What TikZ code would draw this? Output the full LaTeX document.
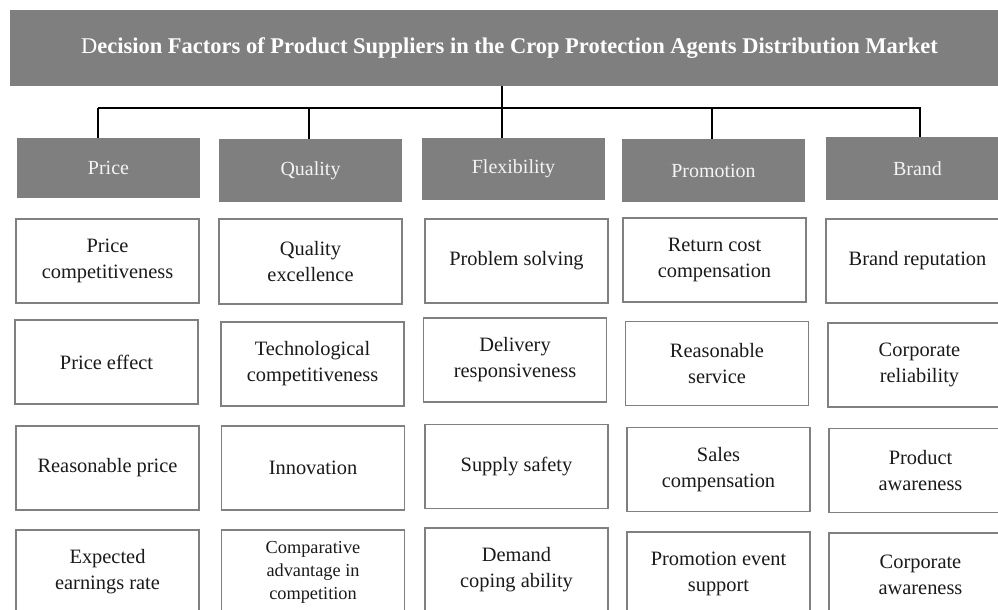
\documentclass[tikz,border=0pt]{standalone}
\usepackage{fontspec}
\setmainfont{Liberation Serif}
\definecolor{boxgray}{HTML}{7F7F7F}
\definecolor{edgegray}{HTML}{808080}
\definecolor{cattext}{HTML}{F4F4F4}
\definecolor{txt}{HTML}{1A1A1A}
\tikzset{
  titlebox/.style={fill=boxgray, draw=none, minimum width=999pt, minimum height=76pt, inner sep=0pt, outer sep=0pt, text=white, font=\fontsize{22.5}{26}\selectfont\bfseries},
  catbox/.style={fill=boxgray, draw=none, minimum width=183pt, inner sep=0pt, outer sep=0pt, text=cattext, font=\fontsize{20}{24}\selectfont},
  detail/.style={draw=edgegray, line width=1.5pt, fill=white, minimum width=183pt, minimum height=84pt, inner sep=0pt, outer sep=0pt, text=txt, align=center, font=\fontsize{20.4}{26}\selectfont},
  conn/.style={draw=black, line width=1.7pt}
}
\begin{document}
\begin{tikzpicture}[x=1pt, y=-1pt]
\useasboundingbox (0,0) rectangle (998,610);
\clip (0,0) rectangle (998,610);
\fill[white] (0,0) rectangle (998,610);

% title
\node[titlebox] (t) at (509.5,48) {\raisebox{-1.5pt}{\textmd{D}ecision Factors of Product Suppliers in the Crop Protection Agents Distribution Market}};

% categories
\node[catbox, minimum height=60pt] (c1) at (108.5,168) {\raisebox{-1.5pt}{Price}};
\node[catbox, minimum height=63pt] (c2) at (310.5,170.5) {Quality};
\node[catbox, minimum height=62pt] (c3) at (513.5,169) {Flexibility};
\node[catbox, minimum height=63pt] (c4) at (713.5,170.5) {Promotion};
\node[catbox, minimum height=63pt] (c5) at (917.5,168.5) {Brand};

% connectors
\coordinate (busL) at (98,108);
\coordinate (busR) at (921,108);
\coordinate (bus) at (502,108);
\coordinate (d2) at (309,108);
\coordinate (d4) at (712,108);
\coordinate (d5) at (920,108);
\draw[conn] (busL) -- (busR);
\draw[conn] (bus |- t.south) -- (bus |- c3.north);
\draw[conn] (busL) -- (busL |- c1.north);
\draw[conn] (d2) -- (d2 |- c2.north);
\draw[conn] (d4) -- (d4 |- c4.north);
\draw[conn] (d5) -- (d5 |- c5.north);

% column 1
\node[detail] (p1) at (107.5,261) {Price\\competitiveness};
\node[detail] (p2) at (106.5,362) {Price effect};
\node[detail] (p3) at (107.5,468) {Reasonable price};
\node[detail] (p4) at (107.5,572) {Expected\\earnings rate};

% column 2
\node[detail, minimum height=85pt] (q1) at (310.5,261.5) {Quality\\excellence};
\node[detail] (q2) at (312.5,364) {Technological\\competitiveness};
\node[detail] (q3) at (313,468) {Innovation};
\node[detail, font=\fontsize{18.3}{23}\selectfont] (q4) at (313,572) {Comparative\\advantage in\\competition};

% column 3
\node[detail] (f1) at (516.5,261) {Problem solving};
\node[detail] (f2) at (515,360) {Delivery\\responsiveness};
\node[detail] (f3) at (516.5,466.5) {Supply safety};
\node[detail] (f4) at (516.5,570) {Demand\\coping ability};

% column 4
\node[detail] (m1) at (714.5,260) {Return cost\\compensation};
\node[detail] (m2) at (717,363.5) {Reasonable\\service};
\node[detail] (m3) at (718.5,469.5) {Sales\\compensation};
\node[detail] (m4) at (718.5,574) {Promotion event\\support};

% column 5
\node[detail] (b1) at (917.5,261) {Brand reputation};
\node[detail] (b2) at (919.5,365) {Corporate\\reliability};
\node[detail] (b3) at (920.5,470.5) {Product\\awareness};
\node[detail] (b4) at (920.5,575) {Corporate\\awareness};
\end{tikzpicture}
\end{document}
